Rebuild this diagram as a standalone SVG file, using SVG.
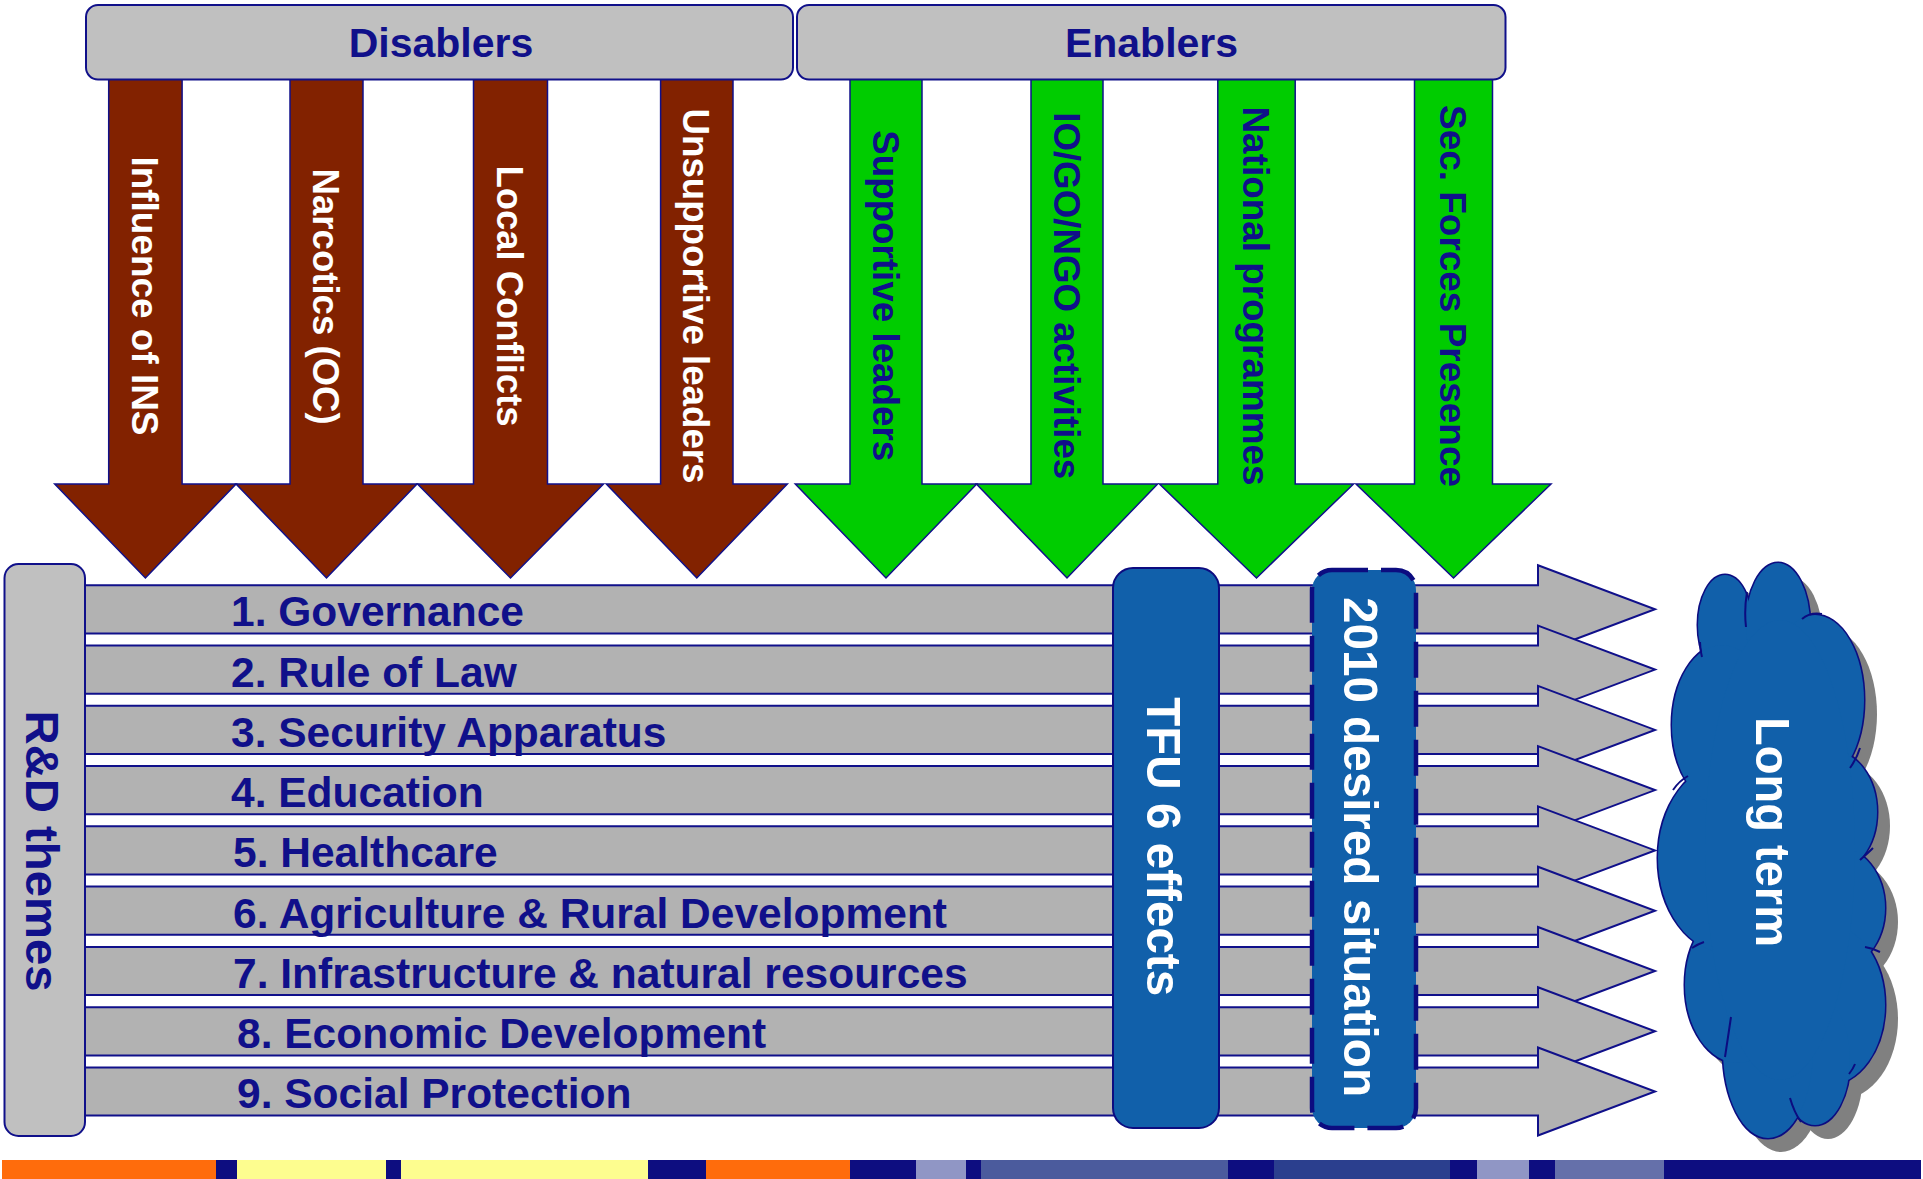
<svg xmlns="http://www.w3.org/2000/svg" xmlns:xlink="http://www.w3.org/1999/xlink" width="1923" height="1179" viewBox="0 0 1923 1179">
<style>
text{font-family:"Liberation Sans",Arial,sans-serif;font-weight:bold}
.nv{fill:#10108A}
.wt{fill:#FFFFFF}
.hdr{fill:#C0C0C0;stroke:#10108A;stroke-width:2}
.dis{fill:#822200;stroke:#10108A;stroke-width:1.5;stroke-linejoin:miter}
.ena{fill:#00CC00;stroke:#10108A;stroke-width:1.5}
.thm{fill:#B2B2B2;stroke:#10108A;stroke-width:2}
.vt{font-size:37px;text-anchor:middle}
.th{font-size:42.5px}
.crease{fill:none;stroke:#0C0C80;stroke-width:2}
</style>
<defs>
<g id="cloudShape">
<ellipse cx="1725" cy="625" rx="27" ry="50"/>
<ellipse cx="1778" cy="625" rx="32" ry="62"/>
<ellipse cx="1815" cy="700" rx="49" ry="85"/>
<ellipse cx="1830" cy="812" rx="47" ry="62"/>
<ellipse cx="1835" cy="908" rx="50" ry="62"/>
<ellipse cx="1828" cy="1005" rx="57" ry="80"/>
<ellipse cx="1815" cy="1060" rx="35" ry="65"/>
<ellipse cx="1768" cy="1050" rx="45" ry="88"/>
<ellipse cx="1738" cy="985" rx="53" ry="78"/>
<ellipse cx="1728" cy="858" rx="70" ry="95"/>
<ellipse cx="1722" cy="725" rx="50" ry="80"/>
<ellipse cx="1780" cy="850" rx="75" ry="230"/>
</g>
</defs>
<rect width="1923" height="1179" fill="#FFFFFF"/>

<!-- Disabler arrows -->
<g id="dis1"><polygon class="dis" points="108.7,78 182.1,78 182.1,484 236.1,484 145.4,578 54.7,484 108.7,484"/>
<text class="vt wt" transform="translate(145,296) rotate(90)" y="13.3" textLength="279" lengthAdjust="spacingAndGlyphs">Influence of INS</text></g>
<g id="dis2"><polygon class="dis" points="290,78 363,78 363,484 417,484 326.5,578 236,484 290,484"/>
<text class="vt wt" transform="translate(326.7,296.6) rotate(90)" y="13.3" textLength="256" lengthAdjust="spacingAndGlyphs">Narcotics (OC)</text></g>
<g id="dis3"><polygon class="dis" points="473.5,78 547.5,78 547.5,484 603.5,484 510.5,578 417.5,484 473.5,484"/>
<text class="vt wt" transform="translate(510,296) rotate(90)" y="13.3" textLength="261" lengthAdjust="spacingAndGlyphs">Local Conflicts</text></g>
<g id="dis4"><polygon class="dis" points="660.6,78 733,78 733,484 787.3,484 696.8,578 606.3,484 660.6,484"/>
<text class="vt wt" transform="translate(696.5,296) rotate(90)" y="13.3" textLength="375" lengthAdjust="spacingAndGlyphs">Unsupportive leaders</text></g>

<!-- Enabler arrows -->
<g id="ena1"><polygon class="ena" points="850,78 922,78 922,484 976.7,484 886,578 795.3,484 850,484"/>
<text class="vt nv" transform="translate(886,295.7) rotate(90)" y="13.3" textLength="331" lengthAdjust="spacingAndGlyphs">Supportive leaders</text></g>
<g id="ena2"><polygon class="ena" points="1031,78 1103,78 1103,484 1157.6,484 1067,578 976.4,484 1031,484"/>
<text class="vt nv" transform="translate(1067,295.7) rotate(90)" y="13.3" textLength="367" lengthAdjust="spacingAndGlyphs">IO/GO/NGO activities</text></g>
<g id="ena3"><polygon class="ena" points="1217.8,78 1295.2,78 1295.2,484 1353.5,484 1256.5,578 1159.5,484 1217.8,484"/>
<text class="vt nv" transform="translate(1256,296) rotate(90)" y="13.3" textLength="379" lengthAdjust="spacingAndGlyphs">National programmes</text></g>
<g id="ena4"><polygon class="ena" points="1414.5,78 1492.5,78 1492.5,484 1551,484 1453.5,578 1356,484 1414.5,484"/>
<text class="vt nv" transform="translate(1453,296) rotate(90)" y="13.3" textLength="382" lengthAdjust="spacingAndGlyphs">Sec. Forces Presence</text></g>

<!-- Headers -->
<g id="disablers"><rect class="hdr" x="86" y="5" width="707" height="74.5" rx="12"/>
<text class="nv" x="441" y="57.4" font-size="41" text-anchor="middle">Disablers</text></g>
<g id="enablers"><rect class="hdr" x="797" y="5" width="708.5" height="74.5" rx="12"/>
<text class="nv" x="1151.5" y="57.4" font-size="41" text-anchor="middle">Enablers</text></g>

<!-- Theme arrows -->
<g id="theme1"><polygon class="thm" points="80,585.2 1538,585.2 1538,565.3 1655,609.3 1538,653.3 1538,633.4 80,633.4"/>
<text class="th nv" x="231" y="626.2">1. Governance</text></g>
<g id="theme2"><polygon class="thm" points="80,645.5 1538,645.5 1538,625.6 1655,669.6 1538,713.6 1538,693.7 80,693.7"/>
<text class="th nv" x="231" y="686.5">2. Rule of Law</text></g>
<g id="theme3"><polygon class="thm" points="80,705.8 1538,705.8 1538,685.9 1655,729.9 1538,773.9 1538,754 80,754"/>
<text class="th nv" x="231" y="746.8">3. Security Apparatus</text></g>
<g id="theme4"><polygon class="thm" points="80,766 1538,766 1538,746.1 1655,790.1 1538,834.1 1538,814.2 80,814.2"/>
<text class="th nv" x="231" y="807">4. Education</text></g>
<g id="theme5"><polygon class="thm" points="80,826.3 1538,826.3 1538,806.4 1655,850.4 1538,894.4 1538,874.5 80,874.5"/>
<text class="th nv" x="233" y="867.3">5. Healthcare</text></g>
<g id="theme6"><polygon class="thm" points="80,886.6 1538,886.6 1538,866.7 1655,910.7 1538,954.7 1538,934.8 80,934.8"/>
<text class="th nv" x="233" y="927.6">6. Agriculture &amp; Rural Development</text></g>
<g id="theme7"><polygon class="thm" points="80,946.9 1538,946.9 1538,927 1655,971 1538,1015 1538,995.1 80,995.1"/>
<text class="th nv" x="233" y="987.9">7. Infrastructure &amp; natural resources</text></g>
<g id="theme8"><polygon class="thm" points="80,1007.2 1538,1007.2 1538,987.3 1655,1031.3 1538,1075.3 1538,1055.4 80,1055.4"/>
<text class="th nv" x="237" y="1048.2">8. Economic Development</text></g>
<g id="theme9"><polygon class="thm" points="80,1067.4 1538,1067.4 1538,1047.5 1655,1091.5 1538,1135.5 1538,1115.6 80,1115.6"/>
<text class="th nv" x="237" y="1108.4">9. Social Protection</text></g>

<!-- R&D themes box -->
<g id="rd-themes"><rect x="4.5" y="564" width="80.5" height="572" rx="14" fill="#C0C0C0" stroke="#10108A" stroke-width="2"/>
<text class="nv" transform="translate(42.5,851) rotate(90)" y="16.9" font-size="47" text-anchor="middle" textLength="281" lengthAdjust="spacingAndGlyphs">R&amp;D themes</text></g>

<!-- TFU 6 effects -->
<g id="tfu"><rect x="1113" y="568" width="106" height="560" rx="20" fill="#1160AA" stroke="#0C0C80" stroke-width="2"/>
<text class="wt" transform="translate(1165,846.7) rotate(90)" y="17.6" font-size="49" text-anchor="middle" textLength="299" lengthAdjust="spacingAndGlyphs">TFU 6 effects</text></g>

<!-- 2010 desired situation -->
<g id="desired2010"><rect x="1312" y="570" width="104" height="558" rx="20" fill="#1160AA" stroke="#0C0C80" stroke-width="4.5" stroke-dasharray="36 13"/>
<text class="wt" transform="translate(1362,847) rotate(90)" y="17.6" font-size="49" text-anchor="middle" textLength="500" lengthAdjust="spacingAndGlyphs">2010 desired situation</text></g>

<!-- Long term cloud -->
<g id="longterm">
<use xlink:href="#cloudShape" href="#cloudShape" fill="#808080" transform="translate(13,14)"/>
<use xlink:href="#cloudShape" href="#cloudShape" fill="#1160AA" stroke="#0C0C80" stroke-width="3"/>
<use xlink:href="#cloudShape" href="#cloudShape" fill="#1160AA"/>
<path class="crease" d="M1747,592 Q1744,610 1746,627 M1700,642 Q1700,650 1702,657 M1802,619 Q1810,612 1822,614 M1850,768 Q1857,758 1860,748 M1688,776 Q1679,781 1673,790 M1860,860 Q1868,853 1873,848 M1865,947 Q1872,948 1880,952 M1849,1074 Q1853,1069 1855,1064 M1790,1098 Q1794,1112 1801,1122 M1725,1057 Q1728,1037 1731,1017 M1704,942 Q1698,944 1692,948"/>
<text class="wt" transform="translate(1773.5,832) rotate(90)" y="17.5" font-size="49" text-anchor="middle" textLength="230" lengthAdjust="spacingAndGlyphs">Long term</text>
</g>

<!-- Bottom colour strip -->
<g id="strip">
<rect x="2" y="1160" width="214" height="19" fill="#FF6C0C"/>
<rect x="216" y="1160" width="21" height="19" fill="#0D0D80"/>
<rect x="237" y="1160" width="149" height="19" fill="#FDFD8F"/>
<rect x="386" y="1160" width="15" height="19" fill="#0D0D80"/>
<rect x="401" y="1160" width="247" height="19" fill="#FDFD8F"/>
<rect x="648" y="1160" width="58" height="19" fill="#0D0D80"/>
<rect x="706" y="1160" width="144" height="19" fill="#FF6C0C"/>
<rect x="850" y="1160" width="66" height="19" fill="#0D0D80"/>
<rect x="916" y="1160" width="50" height="19" fill="#9096C5"/>
<rect x="966" y="1160" width="15" height="19" fill="#0D0D80"/>
<rect x="981" y="1160" width="247" height="19" fill="#4B5B9D"/>
<rect x="1228" y="1160" width="46" height="19" fill="#0D0D80"/>
<rect x="1274" y="1160" width="176" height="19" fill="#2B3F8E"/>
<rect x="1450" y="1160" width="27" height="19" fill="#0D0D80"/>
<rect x="1477" y="1160" width="52" height="19" fill="#9096C5"/>
<rect x="1529" y="1160" width="26" height="19" fill="#0D0D80"/>
<rect x="1555" y="1160" width="109" height="19" fill="#6570AA"/>
<rect x="1664" y="1160" width="257" height="19" fill="#0D0D80"/>
</g>
<g id="connectors"/>
</svg>
